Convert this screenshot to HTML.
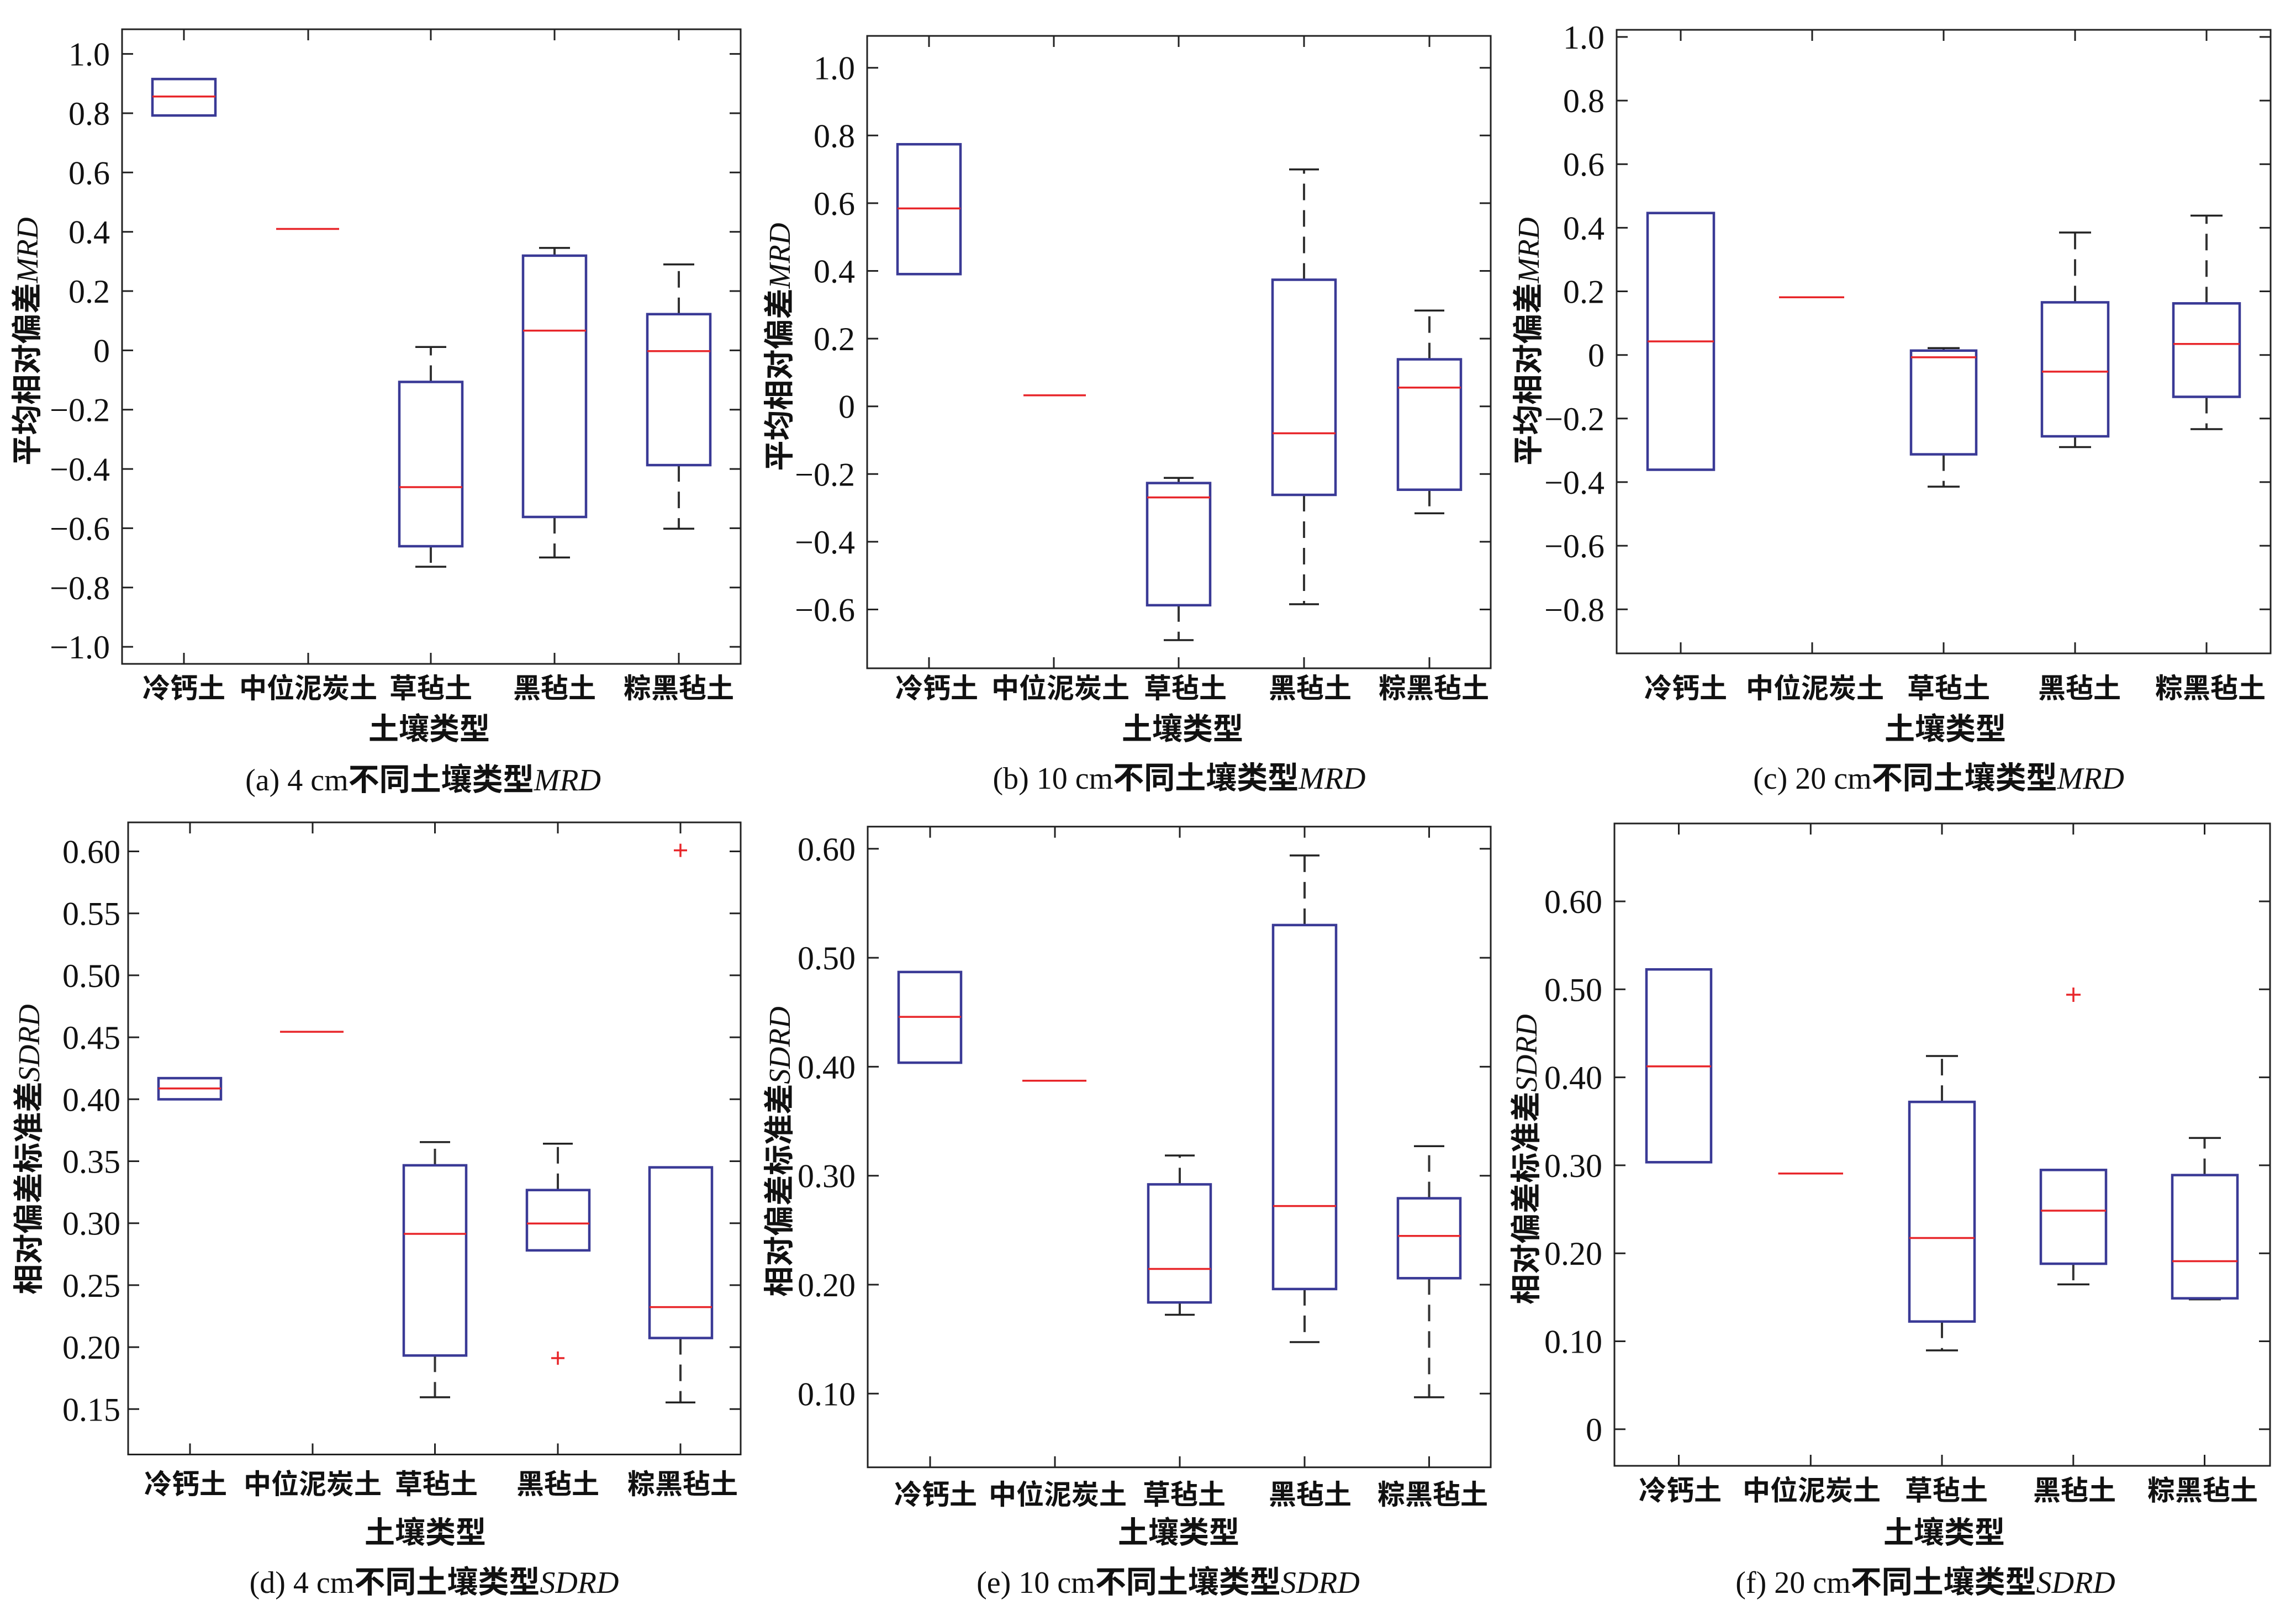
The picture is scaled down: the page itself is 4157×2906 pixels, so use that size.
<!DOCTYPE html>
<html><head><meta charset="utf-8"><style>
html,body{margin:0;padding:0;background:#fff}
svg{display:block}
.ax{fill:none;stroke:#222;stroke-width:3}
.tk{stroke:#222;stroke-width:3}
.bx{fill:none;stroke:#3a3a96;stroke-width:4.5}
.md{stroke:#e8262a;stroke-width:3.5}
.wk{stroke:#333;stroke-width:4;stroke-dasharray:30 18}
.cp{stroke:#222;stroke-width:3.5}
.ol{stroke:#e8262a;stroke-width:3.5}
.t{font-family:"Liberation Serif",serif;font-size:60px;fill:#111}
.c{font-family:"Liberation Sans","Noto Sans CJK SC",sans-serif;font-size:50px;font-weight:700;fill:#111}
.y{font-family:"Liberation Sans","Noto Sans CJK SC",sans-serif;font-size:55px;font-weight:700;fill:#111}
.cap{font-family:"Liberation Serif","Noto Sans CJK SC",serif;font-size:56px;fill:#111;font-weight:700}
.i{font-family:"Liberation Serif",serif;font-style:italic;font-weight:normal}
.r{font-family:"Liberation Serif",serif;font-weight:normal}
</style></head><body>
<svg width="4157" height="2906" viewBox="0 0 4157 2906" xmlns="http://www.w3.org/2000/svg">

<!-- ===== Panel a ===== -->
<g>
<rect class="ax" x="221" y="53" width="1120" height="1149"/>
<g class="tk">
<path d="M221 97.6h20M1341 97.6h-20M221 205h20M1341 205h-20M221 312.3h20M1341 312.3h-20M221 419.7h20M1341 419.7h-20M221 527h20M1341 527h-20M221 634.4h20M1341 634.4h-20M221 741.7h20M1341 741.7h-20M221 849.1h20M1341 849.1h-20M221 956.4h20M1341 956.4h-20M221 1063.8h20M1341 1063.8h-20M221 1171.1h20M1341 1171.1h-20"/>
<path d="M333 53v20M333 1202v-20M558 53v20M558 1202v-20M780 53v20M780 1202v-20M1004 53v20M1004 1202v-20M1229 53v20M1229 1202v-20"/>
</g>
<g class="t" font-family="Liberation Serif, serif" text-anchor="end">
<text x="199" y="118.6">1.0</text><text x="199" y="226">0.8</text><text x="199" y="333.3">0.6</text><text x="199" y="440.7">0.4</text><text x="199" y="548">0.2</text><text x="199" y="655.4">0</text><text x="199" y="762.7">−0.2</text><text x="199" y="870.1">−0.4</text><text x="199" y="977.4">−0.6</text><text x="199" y="1084.8">−0.8</text><text x="199" y="1192.1">−1.0</text>
</g>
<rect class="bx" x="276" y="143.1" width="114" height="66"/><line class="md" x1="276" x2="390" y1="174.7" y2="174.7"/>
<line class="md" x1="500" x2="614" y1="414.5" y2="414.5"/>
<line class="wk" x1="780" x2="780" y1="691.5" y2="628.3"/><line class="wk" x1="780" x2="780" y1="989" y2="1026.1"/>
<line class="cp" x1="752" x2="808" y1="628.3" y2="628.3"/><line class="cp" x1="752" x2="808" y1="1026.1" y2="1026.1"/>
<rect class="bx" x="723" y="691.5" width="114" height="297.5"/><line class="md" x1="723" x2="837" y1="882" y2="882"/>
<line class="wk" x1="1004" x2="1004" y1="462.9" y2="448.9"/><line class="wk" x1="1004" x2="1004" y1="936" y2="1009.4"/>
<line class="cp" x1="976" x2="1032" y1="448.9" y2="448.9"/><line class="cp" x1="976" x2="1032" y1="1009.4" y2="1009.4"/>
<rect class="bx" x="947" y="462.9" width="114" height="473.1"/><line class="md" x1="947" x2="1061" y1="598.6" y2="598.6"/>
<line class="wk" x1="1229" x2="1229" y1="568.8" y2="478.7"/><line class="wk" x1="1229" x2="1229" y1="842.1" y2="957.3"/>
<line class="cp" x1="1201" x2="1257" y1="478.7" y2="478.7"/><line class="cp" x1="1201" x2="1257" y1="957.3" y2="957.3"/>
<rect class="bx" x="1172" y="568.8" width="114" height="273.3"/><line class="md" x1="1172" x2="1286" y1="635.7" y2="635.7"/>
<g class="c" text-anchor="middle"><text x="333" y="1263.5">冷钙土</text><text x="558" y="1263.5">中位泥炭土</text><text x="780" y="1263.5">草毡土</text><text x="1004" y="1263.5">黑毡土</text><text x="1229" y="1263.5">粽黑毡土</text></g>
<text class="y" text-anchor="middle" x="777" y="1339">土壤类型</text>
<text class="y" text-anchor="middle" transform="translate(68,618) rotate(-90)">平均相对偏差<tspan class="i">MRD</tspan></text>
<text class="cap" text-anchor="middle" x="766" y="1431"><tspan class="r">(a) 4 cm</tspan>不同土壤类型<tspan class="i">MRD</tspan></text>
</g>

<!-- ===== Panel b ===== -->
<g>
<rect class="ax" x="1570" y="65" width="1129" height="1145"/>
<g class="tk">
<path d="M1570 122.7h20M2699 122.7h-20M1570 245.3h20M2699 245.3h-20M1570 367.9h20M2699 367.9h-20M1570 490.5h20M2699 490.5h-20M1570 613.1h20M2699 613.1h-20M1570 735.7h20M2699 735.7h-20M1570 858.3h20M2699 858.3h-20M1570 980.9h20M2699 980.9h-20M1570 1103.5h20M2699 1103.5h-20"/>
<path d="M1682 65v20M1682 1210v-20M1908 65v20M1908 1210v-20M2134 65v20M2134 1210v-20M2361 65v20M2361 1210v-20M2588 65v20M2588 1210v-20"/>
</g>
<g class="t" font-family="Liberation Serif, serif" text-anchor="end">
<text x="1548" y="143.7">1.0</text><text x="1548" y="266.3">0.8</text><text x="1548" y="388.9">0.6</text><text x="1548" y="511.5">0.4</text><text x="1548" y="634.1">0.2</text><text x="1548" y="756.7">0</text><text x="1548" y="879.3">−0.2</text><text x="1548" y="1001.9">−0.4</text><text x="1548" y="1124.5">−0.6</text>
</g>
<rect class="bx" x="1625" y="261.2" width="114" height="235.1"/><line class="md" x1="1625" x2="1739" y1="377.4" y2="377.4"/>
<line class="md" x1="1853" x2="1966" y1="715.7" y2="715.7"/>
<line class="wk" x1="2134" x2="2134" y1="874.6" y2="865.3"/><line class="wk" x1="2134" x2="2134" y1="1095.8" y2="1159"/>
<line class="cp" x1="2107" x2="2161" y1="865.3" y2="865.3"/><line class="cp" x1="2107" x2="2161" y1="1159" y2="1159"/>
<rect class="bx" x="2077" y="874.6" width="114" height="221.2"/><line class="md" x1="2077" x2="2191" y1="900.6" y2="900.6"/>
<line class="wk" x1="2361" x2="2361" y1="506.5" y2="306.7"/><line class="wk" x1="2361" x2="2361" y1="896" y2="1094"/>
<line class="cp" x1="2334" x2="2388" y1="306.7" y2="306.7"/><line class="cp" x1="2334" x2="2388" y1="1094" y2="1094"/>
<rect class="bx" x="2304" y="506.5" width="114" height="389.5"/><line class="md" x1="2304" x2="2418" y1="784.5" y2="784.5"/>
<line class="wk" x1="2588" x2="2588" y1="650.6" y2="562.3"/><line class="wk" x1="2588" x2="2588" y1="886.7" y2="929.4"/>
<line class="cp" x1="2561" x2="2615" y1="562.3" y2="562.3"/><line class="cp" x1="2561" x2="2615" y1="929.4" y2="929.4"/>
<rect class="bx" x="2531" y="650.6" width="114" height="236.1"/><line class="md" x1="2531" x2="2645" y1="701.7" y2="701.7"/>
<g class="c" text-anchor="middle"><text x="1696" y="1263.5">冷钙土</text><text x="1920" y="1263.5">中位泥炭土</text><text x="2146" y="1263.5">草毡土</text><text x="2372" y="1263.5">黑毡土</text><text x="2596" y="1263.5">粽黑毡土</text></g>
<text class="y" text-anchor="middle" x="2141" y="1339">土壤类型</text>
<text class="y" text-anchor="middle" transform="translate(1430,628) rotate(-90)">平均相对偏差<tspan class="i">MRD</tspan></text>
<text class="cap" text-anchor="middle" x="2135" y="1428"><tspan class="r">(b) 10 cm</tspan>不同土壤类型<tspan class="i">MRD</tspan></text>
</g>

<!-- ===== Panel c ===== -->
<g>
<rect class="ax" x="2927" y="54" width="1184" height="1129"/>
<g class="tk">
<path d="M2927 66.9h20M4111 66.9h-20M2927 182.1h20M4111 182.1h-20M2927 297.2h20M4111 297.2h-20M2927 412.4h20M4111 412.4h-20M2927 527.5h20M4111 527.5h-20M2927 642.7h20M4111 642.7h-20M2927 757.8h20M4111 757.8h-20M2927 872.9h20M4111 872.9h-20M2927 988.1h20M4111 988.1h-20M2927 1103.3h20M4111 1103.3h-20"/>
<path d="M3043 54v20M3043 1183v-20M3281 54v20M3281 1183v-20M3519 54v20M3519 1183v-20M3757 54v20M3757 1183v-20M3995 54v20M3995 1183v-20"/>
</g>
<g class="t" font-family="Liberation Serif, serif" text-anchor="end">
<text x="2905" y="87.9">1.0</text><text x="2905" y="203.1">0.8</text><text x="2905" y="318.2">0.6</text><text x="2905" y="433.4">0.4</text><text x="2905" y="548.5">0.2</text><text x="2905" y="663.7">0</text><text x="2905" y="778.8">−0.2</text><text x="2905" y="893.9">−0.4</text><text x="2905" y="1009.1">−0.6</text><text x="2905" y="1124.3">−0.8</text>
</g>
<rect class="bx" x="2983" y="385.7" width="120" height="464.8"/><line class="md" x1="2983" x2="3103" y1="618.1" y2="618.1"/>
<line class="md" x1="3221" x2="3339" y1="538.2" y2="538.2"/>
<line class="wk" x1="3519" x2="3519" y1="634.8" y2="630.2"/><line class="wk" x1="3519" x2="3519" y1="822.6" y2="881.1"/>
<line class="cp" x1="3490" x2="3548" y1="630.2" y2="630.2"/><line class="cp" x1="3490" x2="3548" y1="881.1" y2="881.1"/>
<rect class="bx" x="3460" y="634.8" width="118" height="187.8"/><line class="md" x1="3460" x2="3578" y1="646.9" y2="646.9"/>
<line class="wk" x1="3757" x2="3757" y1="547.4" y2="421"/><line class="wk" x1="3757" x2="3757" y1="790" y2="809.5"/>
<line class="cp" x1="3728" x2="3786" y1="421" y2="421"/><line class="cp" x1="3728" x2="3786" y1="809.5" y2="809.5"/>
<rect class="bx" x="3697" y="547.4" width="120" height="242.6"/><line class="md" x1="3697" x2="3817" y1="672.9" y2="672.9"/>
<line class="wk" x1="3995" x2="3995" y1="549.3" y2="390.4"/><line class="wk" x1="3995" x2="3995" y1="718.5" y2="777"/>
<line class="cp" x1="3966" x2="4024" y1="390.4" y2="390.4"/><line class="cp" x1="3966" x2="4024" y1="777" y2="777"/>
<rect class="bx" x="3935" y="549.3" width="120" height="169.2"/><line class="md" x1="3935" x2="4055" y1="622.7" y2="622.7"/>
<g class="c" text-anchor="middle"><text x="3052" y="1263.5">冷钙土</text><text x="3286" y="1263.5">中位泥炭土</text><text x="3528" y="1263.5">草毡土</text><text x="3765" y="1263.5">黑毡土</text><text x="4002" y="1263.5">粽黑毡土</text></g>
<text class="y" text-anchor="middle" x="3522" y="1339">土壤类型</text>
<text class="y" text-anchor="middle" transform="translate(2786,618) rotate(-90)">平均相对偏差<tspan class="i">MRD</tspan></text>
<text class="cap" text-anchor="middle" x="3510" y="1428"><tspan class="r">(c) 20 cm</tspan>不同土壤类型<tspan class="i">MRD</tspan></text>
</g>

<!-- ===== Panel d ===== -->
<g>
<rect class="ax" x="232" y="1489" width="1109" height="1144.5"/>
<g class="tk">
<path d="M232 1541.5h20M1341 1541.5h-20M232 1653.7h20M1341 1653.7h-20M232 1765.9h20M1341 1765.9h-20M232 1878.1h20M1341 1878.1h-20M232 1990.3h20M1341 1990.3h-20M232 2102.5h20M1341 2102.5h-20M232 2214.7h20M1341 2214.7h-20M232 2326.9h20M1341 2326.9h-20M232 2439.1h20M1341 2439.1h-20M232 2551.3h20M1341 2551.3h-20"/>
<path d="M344 1489v20M344 2633.5v-20M566 1489v20M566 2633.5v-20M787.5 1489v20M787.5 2633.5v-20M1010 1489v20M1010 2633.5v-20M1232 1489v20M1232 2633.5v-20"/>
</g>
<g class="t" font-family="Liberation Serif, serif" text-anchor="end">
<text x="218" y="1562.5">0.60</text><text x="218" y="1674.7">0.55</text><text x="218" y="1786.9">0.50</text><text x="218" y="1899.1">0.45</text><text x="218" y="2011.3">0.40</text><text x="218" y="2123.5">0.35</text><text x="218" y="2235.7">0.30</text><text x="218" y="2347.9">0.25</text><text x="218" y="2460.1">0.20</text><text x="218" y="2572.3">0.15</text>
</g>
<rect class="bx" x="287" y="1952.1" width="113" height="38.3"/><line class="md" x1="287" x2="400" y1="1970.8" y2="1970.8"/>
<line class="md" x1="507" x2="622" y1="1868.1" y2="1868.1"/>
<line class="wk" x1="787.5" x2="787.5" y1="2109.9" y2="2067.9"/><line class="wk" x1="787.5" x2="787.5" y1="2454.3" y2="2529.9"/>
<line class="cp" x1="760" x2="815" y1="2067.9" y2="2067.9"/><line class="cp" x1="760" x2="815" y1="2529.9" y2="2529.9"/>
<rect class="bx" x="731" y="2109.9" width="113" height="344.4"/><line class="md" x1="731" x2="844" y1="2234" y2="2234"/>
<line class="wk" x1="1010" x2="1010" y1="2154.7" y2="2070.7"/>
<line class="cp" x1="983" x2="1037" y1="2070.7" y2="2070.7"/>
<rect class="bx" x="954" y="2154.7" width="113" height="109.2"/><line class="md" x1="954" x2="1067" y1="2215.3" y2="2215.3"/>
<path class="ol" d="M998 2459h24M1010 2447v24"/>
<line class="wk" x1="1232" x2="1232" y1="2422.6" y2="2539.2"/>
<line class="cp" x1="1205" x2="1259" y1="2539.2" y2="2539.2"/>
<rect class="bx" x="1176" y="2113.6" width="113" height="309"/><line class="md" x1="1176" x2="1289" y1="2366.6" y2="2366.6"/>
<path class="ol" d="M1220 1539.6h24M1232 1527.6v24"/>
<g class="c" text-anchor="middle"><text x="336" y="2704.7">冷钙土</text><text x="566" y="2704.7">中位泥炭土</text><text x="790" y="2704.7">草毡土</text><text x="1010" y="2704.7">黑毡土</text><text x="1236" y="2704.7">粽黑毡土</text></g>
<text class="y" text-anchor="middle" x="770" y="2794">土壤类型</text>
<text class="y" text-anchor="middle" transform="translate(71,2081) rotate(-90)">相对偏差标准差<tspan class="i">SDRD</tspan></text>
<text class="cap" text-anchor="middle" x="786" y="2884"><tspan class="r">(d) 4 cm</tspan>不同土壤类型<tspan class="i">SDRD</tspan></text>
</g>

<!-- ===== Panel e ===== -->
<g>
<rect class="ax" x="1571" y="1496.7" width="1128" height="1160"/>
<g class="tk">
<path d="M1571 1536.8h20M2699 1536.8h-20M1571 1734.1h20M2699 1734.1h-20M1571 1931.4h20M2699 1931.4h-20M1571 2128.7h20M2699 2128.7h-20M1571 2326h20M2699 2326h-20M1571 2523.3h20M2699 2523.3h-20"/>
<path d="M1684 1496.7v20M1684 2656.7v-20M1910 1496.7v20M1910 2656.7v-20M2136 1496.7v20M2136 2656.7v-20M2362 1496.7v20M2362 2656.7v-20M2587.5 1496.7v20M2587.5 2656.7v-20"/>
</g>
<g class="t" font-family="Liberation Serif, serif" text-anchor="end">
<text x="1549" y="1557.8">0.60</text><text x="1549" y="1755.1">0.50</text><text x="1549" y="1952.4">0.40</text><text x="1549" y="2149.7">0.30</text><text x="1549" y="2347">0.20</text><text x="1549" y="2544.3">0.10</text>
</g>
<rect class="bx" x="1627" y="1759.9" width="113" height="164.2"/><line class="md" x1="1627" x2="1740" y1="1841.1" y2="1841.1"/>
<line class="md" x1="1851" x2="1967" y1="1956.8" y2="1956.8"/>
<line class="wk" x1="2136" x2="2136" y1="2144.4" y2="2092.1"/><line class="wk" x1="2136" x2="2136" y1="2358.2" y2="2380.5"/>
<line class="cp" x1="2109" x2="2163" y1="2092.1" y2="2092.1"/><line class="cp" x1="2109" x2="2163" y1="2380.5" y2="2380.5"/>
<rect class="bx" x="2079" y="2144.4" width="113" height="213.8"/><line class="md" x1="2079" x2="2192" y1="2297.5" y2="2297.5"/>
<line class="wk" x1="2362" x2="2362" y1="1674.9" y2="1548.9"/><line class="wk" x1="2362" x2="2362" y1="2333.9" y2="2430"/>
<line class="cp" x1="2335" x2="2389" y1="1548.9" y2="1548.9"/><line class="cp" x1="2335" x2="2389" y1="2430" y2="2430"/>
<rect class="bx" x="2305" y="1674.9" width="114" height="659"/><line class="md" x1="2305" x2="2419" y1="2183.6" y2="2183.6"/>
<line class="wk" x1="2587.5" x2="2587.5" y1="2169.6" y2="2075.3"/><line class="wk" x1="2587.5" x2="2587.5" y1="2314.3" y2="2529.9"/>
<line class="cp" x1="2560" x2="2615" y1="2075.3" y2="2075.3"/><line class="cp" x1="2560" x2="2615" y1="2529.9" y2="2529.9"/>
<rect class="bx" x="2531" y="2169.6" width="113" height="144.7"/><line class="md" x1="2531" x2="2644" y1="2237.7" y2="2237.7"/>
<g class="c" text-anchor="middle"><text x="1694" y="2723.4">冷钙土</text><text x="1915" y="2723.4">中位泥炭土</text><text x="2144" y="2723.4">草毡土</text><text x="2372" y="2723.4">黑毡土</text><text x="2594" y="2723.4">粽黑毡土</text></g>
<text class="y" text-anchor="middle" x="2134" y="2794">土壤类型</text>
<text class="y" text-anchor="middle" transform="translate(1430,2085) rotate(-90)">相对偏差标准差<tspan class="i">SDRD</tspan></text>
<text class="cap" text-anchor="middle" x="2115" y="2884"><tspan class="r">(e) 10 cm</tspan>不同土壤类型<tspan class="i">SDRD</tspan></text>
</g>

<!-- ===== Panel f ===== -->
<g>
<rect class="ax" x="2923" y="1491" width="1187" height="1163"/>
<g class="tk">
<path d="M2923 1632h20M4110 1632h-20M2923 1791.3h20M4110 1791.3h-20M2923 1950.6h20M4110 1950.6h-20M2923 2109.9h20M4110 2109.9h-20M2923 2269.2h20M4110 2269.2h-20M2923 2428.5h20M4110 2428.5h-20M2923 2587.8h20M4110 2587.8h-20"/>
<path d="M3039.5 1491v20M3039.5 2654v-20M3278.3 1491v20M3278.3 2654v-20M3516 1491v20M3516 2654v-20M3753.8 1491v20M3753.8 2654v-20M3991.5 1491v20M3991.5 2654v-20"/>
</g>
<g class="t" font-family="Liberation Serif, serif" text-anchor="end">
<text x="2901" y="1653">0.60</text><text x="2901" y="1812.3">0.50</text><text x="2901" y="1971.6">0.40</text><text x="2901" y="2130.9">0.30</text><text x="2901" y="2290.2">0.20</text><text x="2901" y="2449.5">0.10</text><text x="2901" y="2608.8">0</text>
</g>
<rect class="bx" x="2981" y="1755.2" width="117" height="349.1"/><line class="md" x1="2981" x2="3098" y1="1930.7" y2="1930.7"/>
<line class="md" x1="3219.5" x2="3337" y1="2124.8" y2="2124.8"/>
<line class="wk" x1="3516" x2="3516" y1="1995.1" y2="1912"/><line class="wk" x1="3516" x2="3516" y1="2392.7" y2="2445"/>
<line class="cp" x1="3487" x2="3545" y1="1912" y2="1912"/><line class="cp" x1="3487" x2="3545" y1="2445" y2="2445"/>
<rect class="bx" x="3457" y="1995.1" width="118" height="397.6"/><line class="md" x1="3457" x2="3575" y1="2241.5" y2="2241.5"/>
<line class="wk" x1="3753.8" x2="3753.8" y1="2288.1" y2="2325.5"/>
<line class="cp" x1="3725" x2="3783" y1="2325.5" y2="2325.5"/>
<rect class="bx" x="3695" y="2118.3" width="118" height="169.8"/><line class="md" x1="3695" x2="3813" y1="2192" y2="2192"/>
<path class="ol" d="M3741 1801h26M3754 1788v26"/>
<line class="wk" x1="3991.5" x2="3991.5" y1="2127.6" y2="2060.4"/>
<line class="cp" x1="3963" x2="4021" y1="2060.4" y2="2060.4"/><line class="cp" x1="3963" x2="4021" y1="2352.6" y2="2352.6"/>
<rect class="bx" x="3933" y="2127.6" width="118" height="223.1"/><line class="md" x1="3933" x2="4051" y1="2283.5" y2="2283.5"/>
<g class="c" text-anchor="middle"><text x="3042" y="2715.9">冷钙土</text><text x="3280" y="2715.9">中位泥炭土</text><text x="3524" y="2715.9">草毡土</text><text x="3756" y="2715.9">黑毡土</text><text x="3988" y="2715.9">粽黑毡土</text></g>
<text class="y" text-anchor="middle" x="3520" y="2794">土壤类型</text>
<text class="y" text-anchor="middle" transform="translate(2782,2099) rotate(-90)">相对偏差标准差<tspan class="i">SDRD</tspan></text>
<text class="cap" text-anchor="middle" x="3486" y="2884"><tspan class="r">(f) 20 cm</tspan>不同土壤类型<tspan class="i">SDRD</tspan></text>
</g>
</svg>
</body></html>
